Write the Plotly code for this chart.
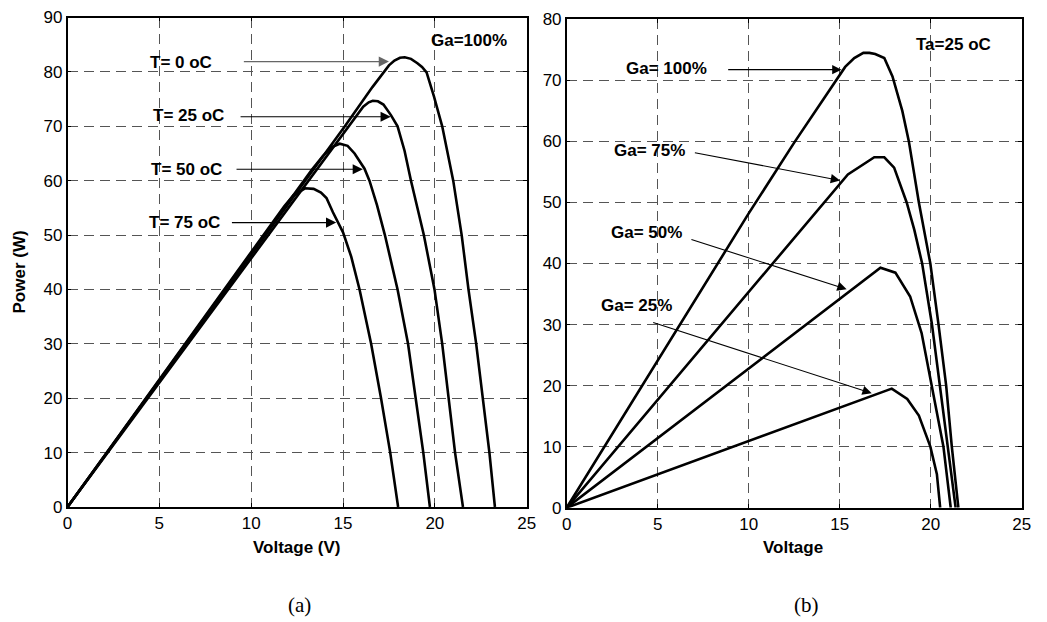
import plotly.graph_objects as go

# ---- data: (a) temperature effect, Ga=100%
t0_v = [0, 15.1, 16.6, 17.16, 17.5, 17.8, 18.1, 18.36, 18.7, 19.05, 19.3, 19.55, 19.95, 20.4, 21.0, 21.46, 21.83, 22.25, 22.6, 22.97, 23.27]
t0_p = [0, 70, 77.2, 79.8, 81.2, 82.1, 82.6, 82.7, 82.4, 81.6, 80.9, 79.9, 75.5, 70, 60, 50, 40, 30, 20, 10, 0]
t25_v = [0, 15.27, 15.7, 16.1, 16.4, 16.62, 16.9, 17.2, 17.6, 17.97, 18.35, 18.7, 19.4, 19.98, 20.4, 20.76, 21.1, 21.53]
t25_p = [0, 70, 72.0, 73.6, 74.4, 74.7, 74.6, 74.0, 72.1, 70, 65.5, 60, 50, 40, 30, 20, 10, 0]
t50_v = [0, 13.3, 13.9, 14.4, 14.82, 15.25, 15.63, 16.17, 16.44, 16.85, 17.28, 17.97, 18.54, 18.96, 19.37, 19.73]
t50_p = [0, 62.0, 64.5, 66.2, 66.8, 66.4, 65.0, 62.2, 60, 55.5, 50, 40, 30, 20, 10, 0]
t75_v = [0, 11.2, 11.8, 12.3, 12.93, 13.4, 13.8, 14.1, 14.45, 15.0, 15.45, 15.9, 16.53, 17.07, 17.57, 18.0]
t75_p = [0, 52.6, 55.3, 57.3, 58.6, 58.5, 57.8, 56.8, 54.2, 50.5, 46, 40, 30, 20, 10, 0]

# ---- data: (b) irradiance effect, Ta=25 oC
g100_v = [0, 10.0, 12.5, 14.78, 15.3, 15.8, 16.3, 16.63, 16.95, 17.45, 17.9, 18.44, 18.8, 19.35, 19.98, 20.43, 20.85, 21.16, 21.52]
g100_p = [0, 48.2, 59.8, 70, 72.2, 73.65, 74.5, 74.5, 74.3, 73.65, 70.65, 65, 60, 50, 40, 30, 20, 10, 0]
g75_v = [0, 15.45, 16.9, 17.45, 17.99, 18.53, 18.68, 19.1, 19.53, 20.07, 20.5, 20.95, 21.37]
g75_p = [0, 54.6, 57.4, 57.4, 55.7, 51.3, 50, 45.5, 40, 30, 20, 10, 0]
g50_v = [0, 17.24, 18.06, 18.87, 19.5, 20.05, 20.7, 21.1]
g50_p = [0, 39.3, 38.5, 34.6, 28.6, 20, 10, 0]
g25_v = [0, 17.86, 18.71, 19.35, 19.98, 20.34, 20.52]
g25_p = [0, 19.5, 17.8, 15.1, 10, 5.5, 0]

left_labels = ["T= 0 oC", "T= 25 oC", "T= 50 oC", "T= 75 oC"]
right_labels = ["Ga= 100%", "Ga= 75%", "Ga= 50%", "Ga= 25%"]

FONT = "Liberation Sans, Arial, Helvetica, sans-serif"
LW = 2.6

fig = go.Figure()
for v, p in [(t0_v, t0_p), (t25_v, t25_p), (t50_v, t50_p), (t75_v, t75_p)]:
    fig.add_trace(go.Scatter(x=v, y=p, mode="lines", line=dict(color="black", width=LW),
                             xaxis="x", yaxis="y", showlegend=False, hoverinfo="skip"))
for v, p in [(g100_v, g100_p), (g75_v, g75_p), (g50_v, g50_p), (g25_v, g25_p)]:
    fig.add_trace(go.Scatter(x=v, y=p, mode="lines", line=dict(color="black", width=LW),
                             xaxis="x2", yaxis="y2", showlegend=False, hoverinfo="skip"))

axis_common = dict(
    showline=True, linecolor="black", linewidth=1.5, mirror="ticks",
    ticks="inside", ticklen=4, tickcolor="black", automargin=False,
    showgrid=True, gridcolor="#555555", gridwidth=1, griddash="10px,6px",
    zeroline=False, tickfont=dict(family=FONT, size=17, color="black"),
)

W, H = 1047, 622
OFF = 8  # page body margin offset
def px(xp): return (xp - OFF) / W
def py(yp): return 1 - (yp - OFF) / H

fig.update_layout(
    width=W, height=H, margin=dict(l=0, r=0, t=0, b=0, autoexpand=False),
    paper_bgcolor="white", plot_bgcolor="white",
    showlegend=False,
    xaxis=dict(axis_common, domain=[px(67.5), px(526.7)], range=[0, 25], dtick=5, anchor="y"),
    yaxis=dict(axis_common, domain=[py(507), py(17.5)], range=[0, 90], dtick=10, anchor="x"),
    xaxis2=dict(axis_common, domain=[px(566.7), px(1021.7)], range=[0, 25], dtick=5, anchor="y2"),
    yaxis2=dict(axis_common, domain=[py(507.7), py(19.3)], range=[0, 80], dtick=10, anchor="x2"),
)

ann = []
bold = dict(family=FONT, size=17, color="black")
C = dict(xanchor="center", yanchor="middle", showarrow=False)
# left texts
left_text_pos = [(6.17, 81.8), (6.57, 71.9), (6.48, 62.1), (6.39, 52.4)]
left_arrows = [((9.52, 81.9), (17.5, 81.9), "#666666"),
               ((9.34, 71.75), (17.6, 71.75), "black"),
               ((9.12, 62.1), (16.08, 62.1), "black"),
               ((8.87, 52.3), (14.63, 52.3), "black")]
for lab, (x, y) in zip(left_labels, left_text_pos):
    ann.append(dict(C, x=x, y=y, xref="x", yref="y", text="<b>%s</b>" % lab, font=bold))
for (tail, tip, col) in left_arrows:
    ann.append(dict(x=tip[0], y=tip[1], ax=tail[0], ay=tail[1], xref="x", yref="y", axref="x", ayref="y",
                    text="", showarrow=True, arrowhead=2, arrowsize=1.7, arrowwidth=1.2, arrowcolor=col))
ann.append(dict(C, x=21.84, y=85.7, xref="x", yref="y", text="<b>Ga=100%</b>", font=bold))

# right texts
right_text_pos = [(5.49, 71.9), (4.54, 58.5), (4.36, 45.0), (3.85, 33.2)]
right_arrows = [((8.79, 71.75), (15.1, 71.75)),
                ((6.96, 58.2), (15.02, 53.6)),
                ((6.77, 44.0), (15.38, 35.8)),
                ((4.67, 30.4), (16.76, 18.75))]
for lab, (x, y) in zip(right_labels, right_text_pos):
    ann.append(dict(C, x=x, y=y, xref="x2", yref="y2", text="<b>%s</b>" % lab, font=bold))
for (tail, tip) in right_arrows:
    ann.append(dict(x=tip[0], y=tip[1], ax=tail[0], ay=tail[1], xref="x2", yref="y2", axref="x2", ayref="y2",
                    text="", showarrow=True, arrowhead=2, arrowsize=1.7, arrowwidth=1.1, arrowcolor="black"))
ann.append(dict(C, x=21.24, y=75.9, xref="x2", yref="y2", text="<b>Ta=25 oC</b>", font=bold))

# axis titles
ann.append(dict(C, x=px(297), y=py(547.5), xref="paper", yref="paper", text="<b>Voltage (V)</b>", font=bold))
ann.append(dict(C, x=px(793), y=py(547.5), xref="paper", yref="paper", text="<b>Voltage</b>", font=bold))
ann.append(dict(C, x=px(18.5), y=py(272), xref="paper", yref="paper", text="<b>Power (W)</b>",
                font=bold, textangle=-90))
# captions
serif = dict(family="Liberation Serif, Times New Roman, serif", size=21, color="black")
ann.append(dict(C, x=px(299.3), y=py(605), xref="paper", yref="paper", text="(a)", font=serif))
ann.append(dict(C, x=px(806.7), y=py(605), xref="paper", yref="paper", text="(b)", font=serif))

fig.update_layout(annotations=ann)
fig.write_html("out.html")
